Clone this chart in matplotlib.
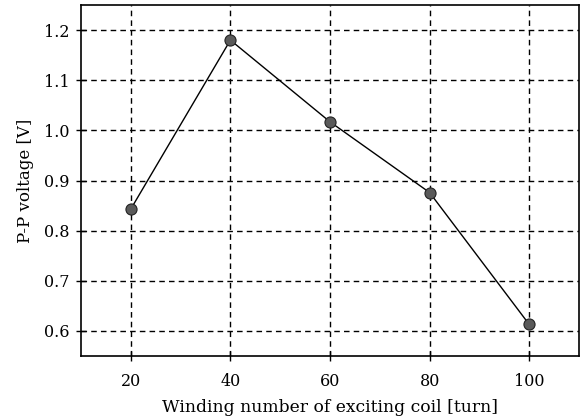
import matplotlib.pyplot as plt

turns = [20, 40, 60, 80, 100]
voltage = [0.843, 1.18, 1.017, 0.876, 0.613]
xticks = [20, 40, 60, 80, 100]
yticks = [0.6, 0.7, 0.8, 0.9, 1.0, 1.1, 1.2]

plt.rcParams['font.family'] = ['DejaVu Serif']

fig = plt.figure(figsize=(5.82, 4.17), dpi=100)
ax = fig.add_axes([81/582, 1 - 356/417, (579-81)/582, (356-5)/417])

ax.plot(turns, voltage, color='black', lw=1.0, marker='o', ms=8,
        mfc='#5a5a5a', mec='#222222', mew=0.8, zorder=3)

ax.set_xlim(10, 110)
ax.set_ylim(0.55, 1.25)
ax.set_xticks(xticks)
ax.set_yticks(yticks)
ax.set_yticklabels([f"{v:.1f}" for v in yticks])
ax.grid(True, color='black', ls=(0, (4, 3)), lw=1.0)
ax.tick_params(direction='inout', length=7, width=1, labelsize=11.5, colors='black')
ax.tick_params(axis='x', pad=9)
ax.tick_params(axis='y', pad=5)
for s in ax.spines.values():
    s.set_linewidth(1.2)

ax.set_xlabel("Winding number of exciting coil [turn]", fontsize=12.3, labelpad=6)
ax.set_ylabel("P-P voltage [V]", fontsize=12, labelpad=7)

fig.savefig("out.png", dpi=100)
